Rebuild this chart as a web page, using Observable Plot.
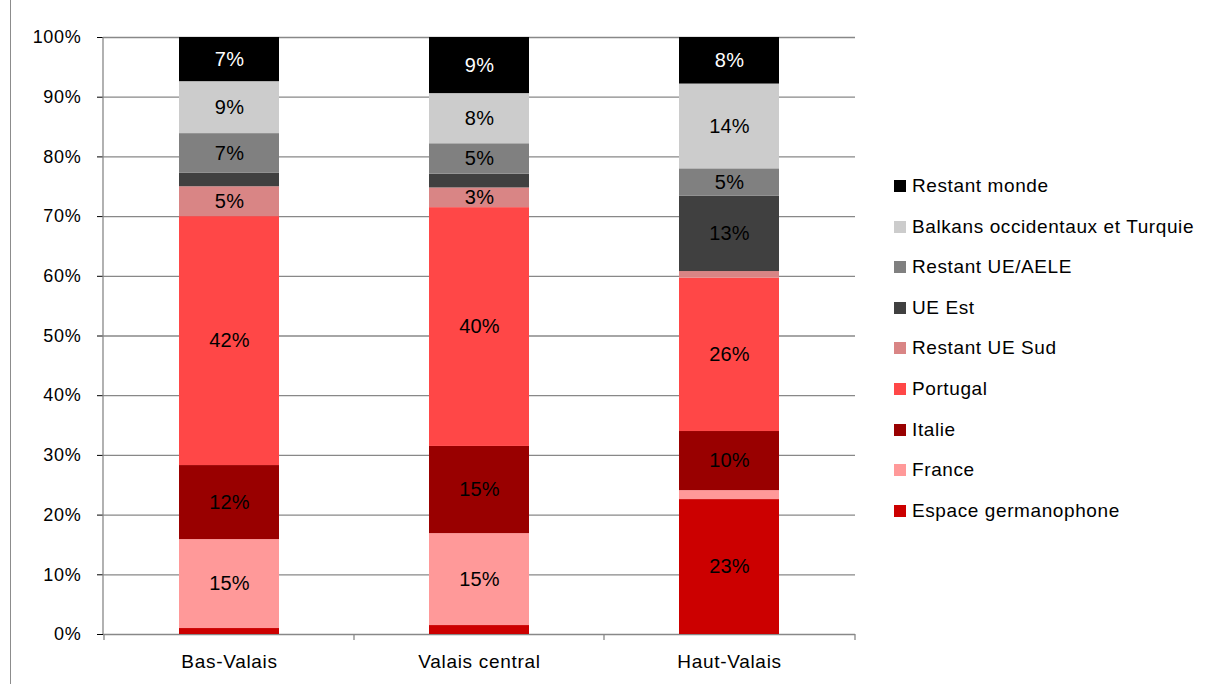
<!DOCTYPE html>
<html>
<head>
<meta charset="utf-8">
<script src="https://cdn.jsdelivr.net/npm/d3@7"></script>
<script src="https://cdn.jsdelivr.net/npm/@observablehq/plot@0.6"></script>
<style>
  body { margin: 0; background: white; }
  #wrap { position: relative; width: 1216px; height: 684px; background: white; overflow: hidden; font-family: "Liberation Sans", Arial, sans-serif; }
  #frame { position: absolute; left: 10px; top: 0; width: 0; height: 684px; border-left: 1px solid #8c8c8c; z-index: 5; }
  #chart { position: absolute; left: 0; top: 0; }
  #chart svg text { letter-spacing: 0.7px; }
  #chart svg g[aria-label^="x-axis"] { font-size: 19px; }
  #chart svg g[aria-label^="y-axis"] { font-size: 18px; }
  #chart svg .barlab text { letter-spacing: 0.2px; }
  #legend { position: absolute; left: 894px; top: 166px; z-index: 5; }
  .row { position: absolute; left: 0; height: 40px; white-space: nowrap; display: flex; align-items: center; font-size: 19px; letter-spacing: 0.6px; color: #000; }
  .sw { width: 12px; height: 12px; margin-right: 6px; flex: none; }
</style>
</head>
<body>
<div id="wrap">
  <div id="chart"></div>
  <div id="frame"></div>
  <div id="legend"></div>
</div>
<script>
const categories = ["Bas-Valais", "Valais central", "Haut-Valais"];
const seriesNames = ["Espace germanophone", "France", "Italie", "Portugal", "Restant UE Sud", "UE Est", "Restant UE/AELE", "Balkans occidentaux et Turquie", "Restant monde"];
const seriesColors = ["#cc0000", "#ff9999", "#990000", "#ff4747", "#d98585", "#404040", "#808080", "#cccccc", "#000000"];
const basValais     = [1.0, 14.9, 12.4, 41.7, 5.0, 2.3, 6.6, 8.7, 7.4];
const valaisCentral = [1.5, 15.4, 14.6, 40.0, 3.3, 2.3, 5.1, 8.4, 9.4];
const hautValais    = [22.6, 1.5, 9.9, 25.7, 1.1, 12.6, 4.6, 14.2, 7.8];
const yTicks = [0, 10, 20, 30, 40, 50, 60, 70, 80, 90, 100];

const valuesByCategory = [basValais, valaisCentral, hautValais];
const data = [];
categories.forEach((cat, i) => {
  seriesNames.forEach((s, j) => {
    data.push({category: cat, series: s, value: valuesByCategory[i][j]});
  });
});

const axisMark = (index, scales, values, dimensions) => {
  const sx = scales.x, sy = scales.y;
  const g = d3.create("svg:g");
  const yTop = sy(100), yBot = sy(0);
  const left = dimensions.marginLeft;
  const right = dimensions.width - dimensions.marginRight;
  g.append("line").attr("x1", left).attr("x2", left).attr("y1", yTop).attr("y2", yBot)
    .attr("stroke", "#888").attr("stroke-width", 1.3);
  let bounds = [left, right];
  if (typeof sx.bandwidth === "function" && typeof sx.step === "function") {
    const off = (sx.step() - sx.bandwidth()) / 2;
    bounds = categories.map(c => sx(c) - off).concat([right]);
  }
  bounds.forEach(b => {
    g.append("line").attr("x1", b).attr("x2", b).attr("y1", yBot).attr("y2", yBot + 6)
      .attr("stroke", "#888").attr("stroke-width", 1.3);
  });
  return g.node();
};

const chart = Plot.plot({
  width: 1216,
  height: 684,
  marginLeft: 103,
  marginRight: 361,
  marginTop: 37,
  marginBottom: 50,
  style: {fontFamily: "Liberation Sans, Arial, sans-serif", fontSize: "18px", background: "white", color: "#000"},
  x: {domain: categories, paddingInner: 0.6, paddingOuter: 0.3, label: null, tickSize: 0, tickPadding: 20},
  y: {domain: [0, 100], ticks: yTicks, tickFormat: d => d + "%", label: null, tickSize: 6, tickPadding: 16},
  color: {domain: seriesNames, range: seriesColors},
  marks: [
    Plot.ruleY(yTicks, {stroke: "#888", strokeWidth: 1.3}),
    Plot.barY(data, Plot.stackY({x: "category", y: "value", fill: "series", order: seriesNames})),
    Plot.text(data, Plot.stackY({
      x: "category", y: "value", z: "series", order: seriesNames,
      text: d => d.value >= 3 ? Math.round(d.value) + "%" : "",
      fill: d => d.series === "Restant monde" ? "white" : "black",
      fontSize: 20, className: "barlab"
    })),
    axisMark
  ]
});
document.getElementById("chart").appendChild(chart);

const legend = document.getElementById("legend");
seriesNames.slice().reverse().forEach((s, i) => {
  const row = document.createElement("div");
  row.className = "row";
  row.style.top = (i * 40.6) + "px";
  const sw = document.createElement("span");
  sw.className = "sw";
  sw.style.background = seriesColors[seriesNames.indexOf(s)];
  const t = document.createElement("span");
  t.textContent = s;
  row.appendChild(sw);
  row.appendChild(t);
  legend.appendChild(row);
});
</script>
</body>
</html>
